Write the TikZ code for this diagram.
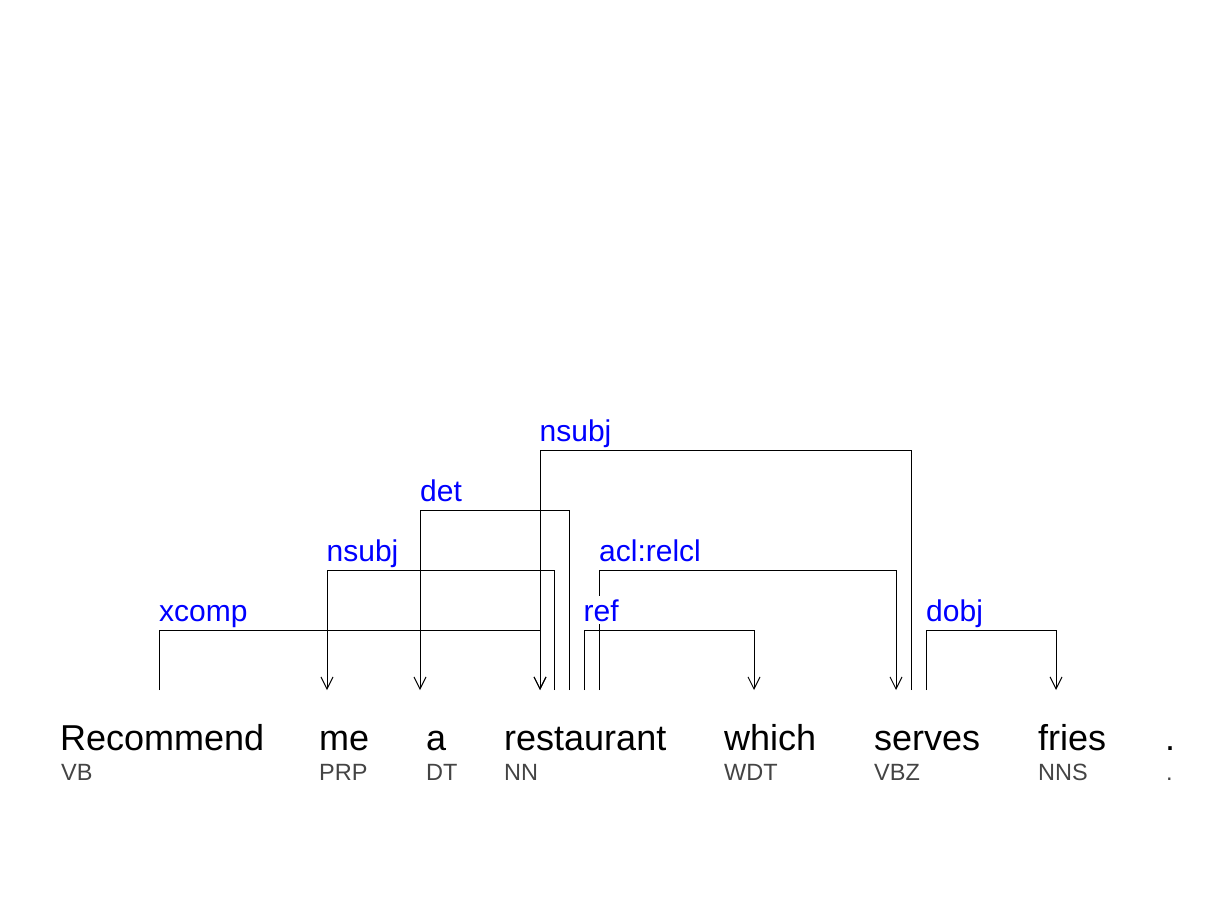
\documentclass[tikz,border=0pt]{standalone}
\usepackage{fontspec}
\setmainfont{Liberation Sans}
\usetikzlibrary{arrows.meta}
\definecolor{tagGray}{HTML}{444444}
\begin{document}
\begin{tikzpicture}[x=1pt,y=-1pt,
  word/.style={anchor=base west,inner sep=0pt,font=\fontsize{36}{40}\selectfont},
  tag/.style={anchor=base west,inner sep=0pt,text=tagGray,font=\fontsize{23.5}{27}\selectfont},
  rel/.style={anchor=base west,inner xsep=0pt,inner ysep=3pt,fill=white,text=blue,font=\fontsize{30}{34}\selectfont},
  arc/.style={draw=black,line width=1pt},
  tip/.style={-{Straight Barb[length=12pt,width=12pt,line width=1pt]}}]
\useasboundingbox[fill=white] (0,0) rectangle (1229,900);
% words
\node[word] (w1) at (60,750) {Recommend};
\node[word] (w2) at (319,750) {me};
\node[word] (w3) at (426,750) {a};
\node[word] (w4) at (504,750) {restaurant};
\node[word] (w5) at (724,750) {which};
\node[word] (w6) at (874,750) {serves};
\node[word] (w7) at (1038,750) {fries};
\node[word] (w8) at (1165,750) {.};
% tags
\node[tag] (t1) at (61,780) {VB};
\node[tag] (t2) at (319,780) {PRP};
\node[tag] (t3) at (426,780) {DT};
\node[tag] (t4) at (504,780) {NN};
\node[tag] (t5) at (724,780) {WDT};
\node[tag] (t6) at (874,780) {VBZ};
\node[tag] (t7) at (1038,780) {NNS};
\node[tag] (t8) at (1166,780) {.};
% endpoints
\coordinate (xcS) at (159,690);  \coordinate (xcT) at (540,690);
\coordinate (ns1S) at (554,690); \coordinate (ns1T) at (327,690);
\coordinate (detS) at (569,690); \coordinate (detT) at (420,690);
\coordinate (ns2S) at (911,690); \coordinate (ns2T) at (540,690);
\coordinate (refS) at (584,690); \coordinate (refT) at (754,690);
\coordinate (aclS) at (599,690); \coordinate (aclT) at (896,690);
\coordinate (dobS) at (926,690); \coordinate (dobT) at (1056,690);
% arcs
\draw[arc,tip] (xcS) -- ++(0,-60) -| (xcT);
\draw[arc,tip] (ns1S) -- ++(0,-120) -| (ns1T);
\draw[arc,tip] (detS) -- ++(0,-180) -| (detT);
\draw[arc,tip] (ns2S) -- ++(0,-240) -| (ns2T);
\draw[arc,tip] (refS) -- ++(0,-60) -| (refT);
\draw[arc,tip] (aclS) -- ++(0,-120) -| (aclT);
\draw[arc,tip] (dobS) -- ++(0,-60) -| (dobT);
% labels
\node[rel] (lxc) at (159,621) {xcomp};
\node[rel] (lns1) at (326.5,561) {nsubj};
\node[rel] (ldet) at (420,501) {det};
\node[rel] (lns2) at (539.5,441) {nsubj};
\node[rel] (lref) at (583.5,621) {ref};
\node[rel] (lacl) at (599,561) {acl:relcl};
\node[rel] (ldob) at (926,621) {dobj};
\end{tikzpicture}
\end{document}
